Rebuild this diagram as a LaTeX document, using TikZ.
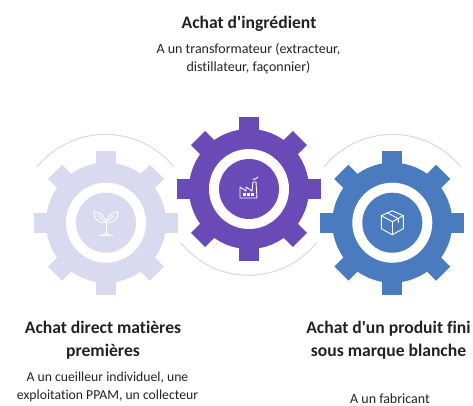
\documentclass[tikz,border=0pt]{standalone}
\usepackage{fontspec}
\setmainfont[Ligatures=NoCommon]{Carlito}
\definecolor{gearA}{HTML}{D9DAEF}
\definecolor{gearB}{HTML}{6A4AB6}
\definecolor{gearC}{HTML}{4A7BBE}
\definecolor{arcc}{HTML}{D8D9EE}
\definecolor{txt}{HTML}{222222}
\tikzset{
 titletext/.style={font=\fontsize{17.6}{22.5}\selectfont\bfseries,align=center,text=txt,inner sep=0pt},
 bodytext/.style={font=\fontsize{14}{18}\selectfont,align=center,text=txt,inner sep=0pt},
 icon/.style={draw=white,line width=0.9pt,line join=round,line cap=round,fill=none},
 ringarc/.style={draw=arcc,line width=1.1pt}
}
\newcommand{\mygear}[3]{%
 \begin{scope}[shift={(#1,#2)}]
  \foreach \a in {0,45,...,315}{\fill[#3,rotate=\a] (-10,-72) rectangle (10,0);}
  \fill[#3] (0,0) circle (60);
  \fill[white] (0,0) circle (40);
  \fill[#3] (0,0) circle (30);
 \end{scope}}
\begin{document}
\begin{tikzpicture}[x=1pt,y=-1pt]
\useasboundingbox (0,0) rectangle (473,405);
\draw[ringarc] (37,167) arc[start angle=219,end angle=321,radius=88];
\draw[ringarc] (324,167) arc[start angle=219,end angle=321,radius=88];
\draw[ringarc] (181,243) arc[start angle=141,end angle=39,radius=87];
\mygear{106}{222.7}{gearA}
\mygear{249}{189}{gearB}
\mygear{392.3}{222.7}{gearC}
% sprout
\begin{scope}[shift={(106,222.7)},icon]
 \draw (0,12) -- (0,-1);
 \draw (-7,13) -- (7,13);
 \draw (-4,13) .. controls (-3,10) and (3,10) .. (4,13);
 \draw (0,0) .. controls (-2,-8) and (-7,-11) .. (-12,-11) .. controls (-13,-5) and (-8,1) .. (0,0) -- cycle;
 \draw (0,0) .. controls (2,-8) and (7,-11) .. (12,-11) .. controls (13,-5) and (8,1) .. (0,0) -- cycle;
 \draw (-2,-2) -- (-8,-7);
 \draw (2,-2) -- (8,-7);
\end{scope}
% factory
\begin{scope}[shift={(249,189)},icon]
 \draw (-9,9) -- (-9,-2) -- (-3,2) -- (-3,-2) -- (3,2) -- (4,-7) -- (7,-7) -- (8,9) -- cycle;
 \draw (4,-10) .. controls (6,-8) and (7,-12) .. (9,-12);
 \fill[white,draw=none] (-6,4) rectangle (-3,7);
 \fill[white,draw=none] (-2,4) rectangle (1,7);
 \fill[white,draw=none] (2,4) rectangle (5,7);
\end{scope}
% box
\begin{scope}[shift={(392.3,222.7)},icon]
 \draw (0,-12) -- (11,-7) -- (11,6) -- (0,12) -- (-11,6) -- (-11,-7) -- cycle;
 \draw (-11,-7) -- (0,-1) -- (11,-7);
 \draw (0,-1) -- (0,12);
 \draw (-5,-10) -- (6,-4) -- (6,0);
\end{scope}
\node[titletext] (t1) at (249,23.5) {Achat d\textquotesingle ingrédient};
\node[bodytext] (b1) at (248.5,58.5) {A un transformateur (extracteur,\\distillateur, façonnier)};
\node[titletext] (t2) at (103,340) {Achat direct matières\\premières};
\node[bodytext,font=\fontsize{13.7}{18}\selectfont] (b2) at (107.5,387) {A un cueilleur individuel, une\\exploitation PPAM, un collecteur};
\node[titletext] (t3) at (388.5,340) {Achat d\textquotesingle un produit fini\\sous marque blanche};
\node[text=txt,inner sep=0pt,font=\fontsize{14}{18}\selectfont] (b3) at (390,398.5) {A un fabricant};
\end{tikzpicture}
\end{document}
